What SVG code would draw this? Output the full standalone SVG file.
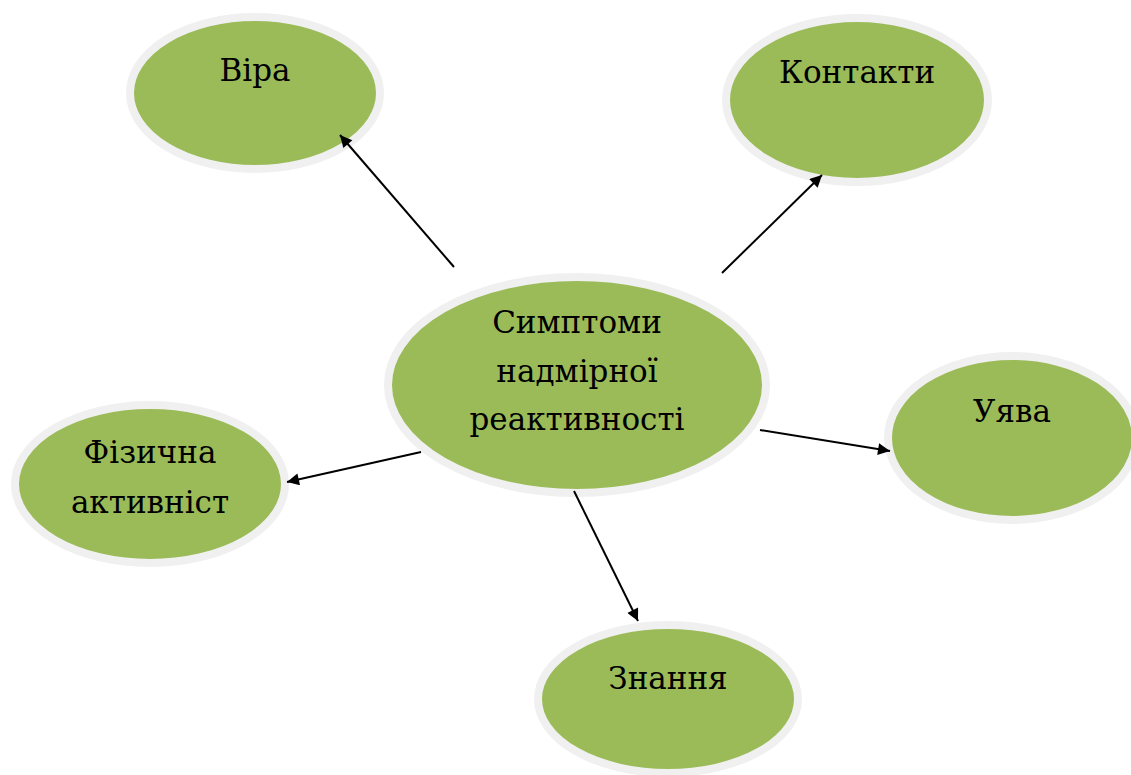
<svg xmlns="http://www.w3.org/2000/svg" width="1131" height="775" viewBox="0 0 1131 775">
<defs>
<style>
.node ellipse{fill:#9BBB59;stroke:#F0F0F0;stroke-width:8}
.lbl{font-size:31px;fill:#000;text-anchor:middle}
.conn line{stroke:#000;stroke-width:2;marker-end:url(#ah)}
</style>
<marker id="ah" viewBox="0 0 10 10" refX="10" refY="5" markerWidth="8" markerHeight="6" markerUnits="strokeWidth" orient="auto">
<path d="M0,0 L10,5 L0,10 z" fill="#000"/>
</marker>
</defs>
<rect width="1131" height="775" fill="#fff"/>
<g id="center" class="node">
<ellipse cx="577" cy="385" rx="189" ry="108"/>
<text class="lbl" x="577" y="333" font-family="DejaVu Serif, serif">Симптоми</text>
<text class="lbl" x="577" y="382" font-family="DejaVu Serif, serif">надмірної</text>
<text class="lbl" x="577" y="430" font-family="DejaVu Serif, serif">реактивності</text>
</g>
<g id="vira" class="node">
<ellipse cx="255" cy="93" rx="125" ry="76"/>
<text class="lbl" x="255" y="81" font-family="DejaVu Serif, serif">Віра</text>
</g>
<g id="kontakty" class="node">
<ellipse cx="857" cy="100" rx="131" ry="82"/>
<text class="lbl" x="857" y="83" font-family="DejaVu Serif, serif">Контакти</text>
</g>
<g id="uyava" class="node">
<ellipse cx="1012" cy="438" rx="124" ry="82"/>
<text class="lbl" x="1012" y="422" font-family="DejaVu Serif, serif">Уява</text>
</g>
<g id="fizychna" class="node">
<ellipse cx="150" cy="484" rx="135" ry="79"/>
<text class="lbl" x="150" y="463" font-family="DejaVu Serif, serif">Фізична</text>
<text class="lbl" x="150" y="513" font-family="DejaVu Serif, serif">активніст</text>
</g>
<g id="znannia" class="node">
<ellipse cx="668" cy="699" rx="130" ry="74"/>
<text class="lbl" x="668" y="689" font-family="DejaVu Serif, serif">Знання</text>
</g>
<g id="connectors" class="conn">
<line x1="454" y1="267" x2="340" y2="135"/>
<line x1="722" y1="273" x2="822" y2="175"/>
<line x1="760" y1="430" x2="890" y2="451"/>
<line x1="421" y1="452" x2="287" y2="482"/>
<line x1="574" y1="491" x2="638" y2="621"/>
</g>
</svg>
